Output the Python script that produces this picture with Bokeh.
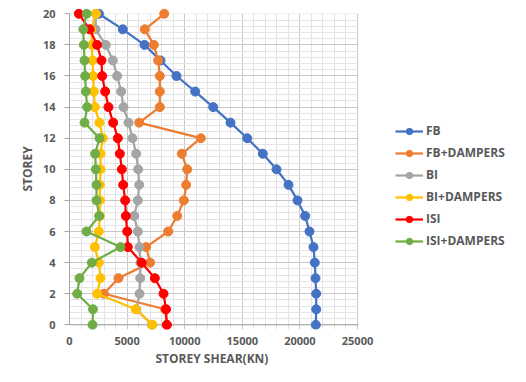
from bokeh.plotting import figure
from bokeh.models import (Legend, LegendItem, FixedTicker, Range1d, BoxAnnotation,
                          Span, Title)
from bokeh.embed import file_html
from bokeh.resources import INLINE

storey = list(range(0, 21))

fb = [21380, 21415, 21415, 21354, 21293, 21180, 20833, 20460, 19792, 19010,
      17969, 16780, 15425, 13976, 12474, 10911, 9288, 7900, 6510, 4627, 2550]
fb_dampers = [8450, 8300, 2980, 4250, 7000, 6655, 8565, 9350, 9925, 10130,
              10217, 9750, 11398, 6050, 7839, 7839, 7839, 7700, 7318, 6536, 8220]
bi = [7150, 5800, 6080, 6140, 6163, 6076, 5931, 5613, 5931, 6050,
      5961, 5787, 5469, 5122, 4687, 4485, 4138, 3762, 3150, 2257, 2300]
bi_dampers = [7200, 5750, 2400, 2690, 2546, 2199, 2546, 2633, 2633, 2633,
              2690, 2690, 2894, 2600, 2199, 2112, 2054, 1997, 1940, 1900, 2300]
isi = [8450, 8380, 8160, 7407, 6260, 5064, 5006, 4890, 4832, 4658,
       4543, 4370, 4195, 3790, 3385, 3095, 2835, 2777, 2400, 1750, 810]
isi_dampers = [1997, 2040, 665, 868, 1940, 4427, 1476, 2575, 2344, 2344,
               2286, 2228, 2604, 1302, 1533, 1417, 1360, 1302, 1244, 1200, 1490]

series = [
    ("FB", fb, "#4472C4"),
    ("FB+DAMPERS", fb_dampers, "#ED7D31"),
    ("BI", bi, "#A5A5A5"),
    ("BI+DAMPERS", bi_dampers, "#FFC000"),
    ("ISI", isi, "#FF0000"),
    ("ISI+DAMPERS", isi_dampers, "#70AD47"),
]

x_ticks = [0, 5000, 10000, 15000, 20000, 25000]
y_ticks = [0, 2, 4, 6, 8, 10, 12, 14, 16, 18, 20]
x_min, x_max = 0, 25000
y_min, y_max = 0, 20

FONT = "Open Sans"
TXT = "#595959"
AXIS = "#a6a6a6"

# frame: left 69 .. right 510 ; value axis 0..25000 occupies 288 px
FRAME_W = 510 - 69
x_end = x_max * FRAME_W / 288.0

p = figure(width=510, height=366, output_backend="svg", toolbar_location=None,
           x_range=Range1d(x_min, x_end), y_range=Range1d(y_min - 0.3, y_max + 0.34),
           min_border_left=69, min_border_right=0, min_border_top=8,
           min_border_bottom=35,
           background_fill_color=None, border_fill_color=None)
p.outline_line_color = None

p.xaxis.ticker = FixedTicker(ticks=x_ticks, minor_ticks=list(range(0, 25001, 1000)))
p.yaxis.ticker = FixedTicker(ticks=y_ticks, minor_ticks=[round(i * 0.4, 1) for i in range(51)])
for ax in (p.xaxis, p.yaxis):
    ax.axis_line_color = AXIS
    ax.major_tick_line_color = AXIS
    ax.major_tick_in = 0
    ax.minor_tick_line_color = None
    ax.major_label_text_font = FONT
    ax.major_label_text_font_size = "11px"
    ax.major_label_text_font_style = "bold"
    ax.major_label_text_color = TXT
    ax.axis_label_text_font = FONT
    ax.axis_label_text_font_size = "12px"
    ax.axis_label_text_font_style = "bold"
    ax.axis_label_text_color = TXT
p.yaxis.axis_label = "STOREY"
p.xaxis.axis_line_color = None
p.xaxis.major_tick_out = 0
p.xaxis.major_label_standoff = 3
p.yaxis.major_tick_out = 5
p.yaxis.bounds = (y_min, y_max)
p.yaxis.major_label_standoff = 9
p.yaxis.axis_label_standoff = 4

p.add_layout(Title(text="STOREY SHEAR(KN)", align="left", offset=86, standoff=0,
                   text_font=FONT, text_font_size="12px", text_font_style="bold",
                   text_color=TXT), "below")

p.xgrid.grid_line_color = "#c8c8c8"
p.ygrid.grid_line_color = "#c8c8c8"
p.xgrid.minor_grid_line_color = "#e4e4e4"
p.ygrid.minor_grid_line_color = "#e4e4e4"
p.xgrid.grid_line_width = 1
p.ygrid.grid_line_width = 1

# horizontal axis line at storey 0
p.add_layout(Span(location=y_min, dimension="width", line_color=AXIS,
                  line_width=1, level="underlay"))
# hide grid overshoot above the top and right of the value area
p.add_layout(BoxAnnotation(bottom=y_max, fill_color="white", fill_alpha=1,
                           line_color=None, level="underlay"))
p.add_layout(BoxAnnotation(left=x_max + 60, fill_color="white", fill_alpha=1,
                           line_color=None, level="underlay"))

items = []
for name, vals, col in series:
    r1 = p.line(vals, storey, line_color=col, line_width=2.25)
    r2 = p.scatter(vals, storey, size=9, fill_color=col, line_color=col)
    items.append(LegendItem(label=name, renderers=[r1, r2]))

legend = Legend(items=items, location=(326, 80), orientation="vertical",
                padding=0, margin=0, spacing=5, glyph_width=28, glyph_height=16,
                label_standoff=3, label_text_font=FONT, label_text_font_size="12px",
                label_text_color=TXT, label_text_font_style="bold",
                background_fill_alpha=0, border_line_color=None)
p.add_layout(legend, "center")

open("out.html", "w").write(file_html(p, INLINE))
